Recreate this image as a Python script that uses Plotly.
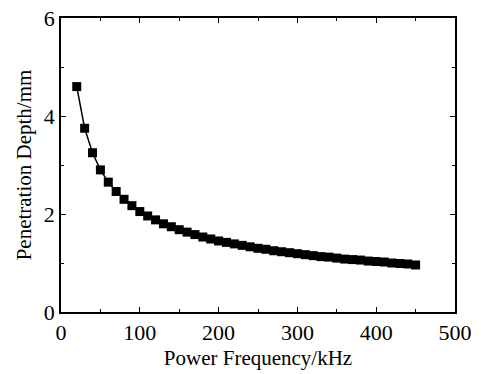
import plotly.graph_objects as go

freq = [20, 30, 40, 50, 60, 70, 80, 90, 100, 110, 120, 130, 140, 150, 160, 170,
        180, 190, 200, 210, 220, 230, 240, 250, 260, 270, 280, 290, 300, 310,
        320, 330, 340, 350, 360, 370, 380, 390, 400, 410, 420, 430, 440, 450]
depth = [4.60, 3.75, 3.25, 2.90, 2.65, 2.46, 2.30, 2.17, 2.05, 1.96, 1.88, 1.80,
         1.74, 1.68, 1.63, 1.58, 1.53, 1.49, 1.45, 1.42, 1.39, 1.36, 1.33, 1.30,
         1.28, 1.25, 1.23, 1.21, 1.19, 1.17, 1.15, 1.13, 1.12, 1.10, 1.08, 1.07,
         1.06, 1.04, 1.03, 1.02, 1.00, 0.99, 0.98, 0.96]

x_ticks = [0, 100, 200, 300, 400, 500]
y_ticks = [0, 2, 4, 6]

fig = go.Figure(go.Scatter(
    x=freq, y=depth, mode="lines+markers",
    line=dict(color="black", width=1.5),
    marker=dict(symbol="square", size=9, color="black"),
))

fam = "Liberation Serif"
font = dict(family=fam, size=22, color="black")
title_font = dict(family=fam, size=21, color="black")
axis_common = dict(
    showline=True, linecolor="black", linewidth=1.5, mirror="ticks",
    ticks="inside", ticklen=5, tickwidth=1.2, tickcolor="black",
    showgrid=False, zeroline=False, tickfont=font, automargin=False,
)
fig.update_layout(
    width=481, height=374,
    margin=dict(l=61, r=26, t=18, b=62),
    paper_bgcolor="white", plot_bgcolor="white",
    showlegend=False,
    font=font,
    xaxis=dict(range=[0, 500], tickvals=x_ticks, ticktext=[str(v) for v in x_ticks],
               minor=dict(tickvals=[50, 150, 250, 350, 450], ticks="inside", ticklen=3, tickcolor="black"),
               title=dict(text="Power Frequency/kHz", font=title_font, standoff=6),
               **axis_common),
    yaxis=dict(range=[0, 6], tickvals=y_ticks, ticktext=[str(v) for v in y_ticks],
               minor=dict(tickvals=[1, 3, 5], ticks="inside", ticklen=3, tickcolor="black"),
               title=dict(text="Penetration Depth/mm", font=title_font, standoff=6),
               **axis_common),
)
fig.write_html("out.html")
